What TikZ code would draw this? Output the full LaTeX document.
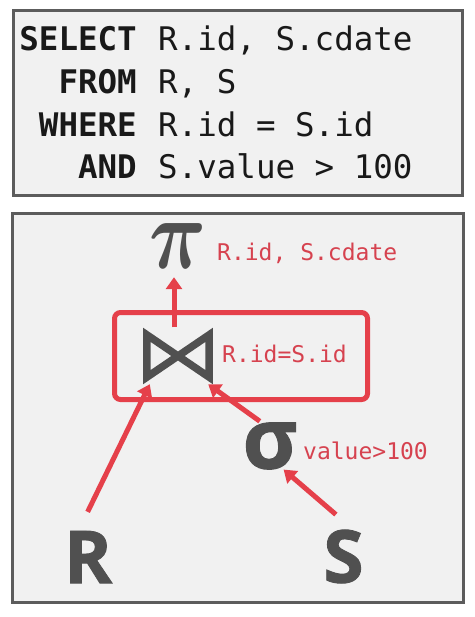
\documentclass[tikz,border=0pt]{standalone}
\usepackage{fix-cm}
\usepackage{amsmath}
\usepackage{bm}
\usepackage{fontspec}
\setmainfont{Open Sans}
\setmonofont{DejaVu Sans Mono}
\newfontfamily\heavyfont[BoldFeatures={FakeBold=1.2}]{Open Sans}
\usetikzlibrary{arrows.meta,positioning}

\definecolor{panelgray}{HTML}{5C5C5C}
\definecolor{panelfill}{HTML}{F1F1F1}
\definecolor{opgray}{HTML}{505050}
\definecolor{flowred}{HTML}{E5404A}
\definecolor{labelred}{HTML}{D6424F}

\tikzset{
  panel/.style={draw=panelgray, fill=panelfill, line width=3pt, inner sep=0pt},
  kw/.style={anchor=base east, inner sep=0pt, text=black!90,
    font=\fontsize{32.5}{39}\selectfont\ttfamily\bfseries},
  arg/.style={anchor=base west, inner sep=0pt, text=black!90,
    font=\fontsize{32.5}{39}\selectfont\ttfamily},
  op/.style={inner sep=0pt, text=opgray},
  rel/.style={inner sep=0pt, text=opgray, font=\fontsize{73}{73}\selectfont\heavyfont\bfseries},
  cond/.style={anchor=base west, inner sep=0pt, text=labelred,
    font=\fontsize{23}{27}\selectfont\ttfamily},
  flow/.style={draw=flowred, line width=5pt, -{Triangle[length=12pt,width=16pt]}},
  bowtie/.style={draw=opgray, line width=7.5pt},
  opbox/.style={draw=flowred, line width=5pt, rounded corners=6pt, inner sep=0pt}
}

\begin{document}
\begin{tikzpicture}[x=1pt, y=-1pt]
\fill[white] (0,0) rectangle (474,617);
\useasboundingbox (0,0) rectangle (474,617);

% query text
\node[panel, minimum width=449pt, minimum height=185pt] (query) at (238,103) {};
\node[kw] (select) at (137,51) {SELECT};
\node[arg] (cols) at (158,51) {R.id, S.cdate};
\node[kw] (from) at (137,94) {FROM};
\node[arg] (tables) at (158,94) {R, S};
\node[kw] (where) at (137,137) {WHERE};
\node[arg] (joincond) at (158,137) {R.id = S.id};
\node[kw] (and) at (137,179) {AND};
\node[arg] (filter) at (158,179) {S.value > 100};

% plan tree
\node[panel, minimum width=451pt, minimum height=389pt] (plan) at (238,408) {};
\node[opbox, minimum width=253pt, minimum height=87pt] (joinbox) at (241,356) {};

\node[op, font=\fontsize{88}{88}\selectfont] (proj) at (178,246.5)
  {\scalebox{0.9}[1.15]{$\bm{\pi}$}};
\node[cond] (projcols) at (217,260) {R.id, S.cdate};

\node[op, minimum width=62pt, minimum height=42pt] (join) at (178,356) {};
\draw[bowtie] (join.north west) -- (join.south west) -- (join.north east)
  -- (join.south east) -- cycle;
\node[cond] (joinpred) at (222,362) {R.id=S.id};

\node[op, font=\fontsize{84}{84}\selectfont\heavyfont\bfseries] (sel) at (270,446) {σ};
\node[cond] (selpred) at (303,459) {value>100};

\node[rel] (R) at (88,557) {R};
\node[rel] (S) at (343.5,556.5) {S};

\draw[flow, shorten <=7.5pt, shorten >=8pt] ([xshift=-4pt]join.north)
  -- ([xshift=-4pt]join.north |- proj.south);
\draw[flow, shorten <=21pt] (R.110) -- ([shift={(3,7)}]join.south west);
\draw[flow, shorten <=2pt] (sel.110) -- ([shift={(-1,7)}]join.south east);
\draw[flow, shorten <=23pt] (S.70) -- (sel.300);
\end{tikzpicture}
\end{document}
